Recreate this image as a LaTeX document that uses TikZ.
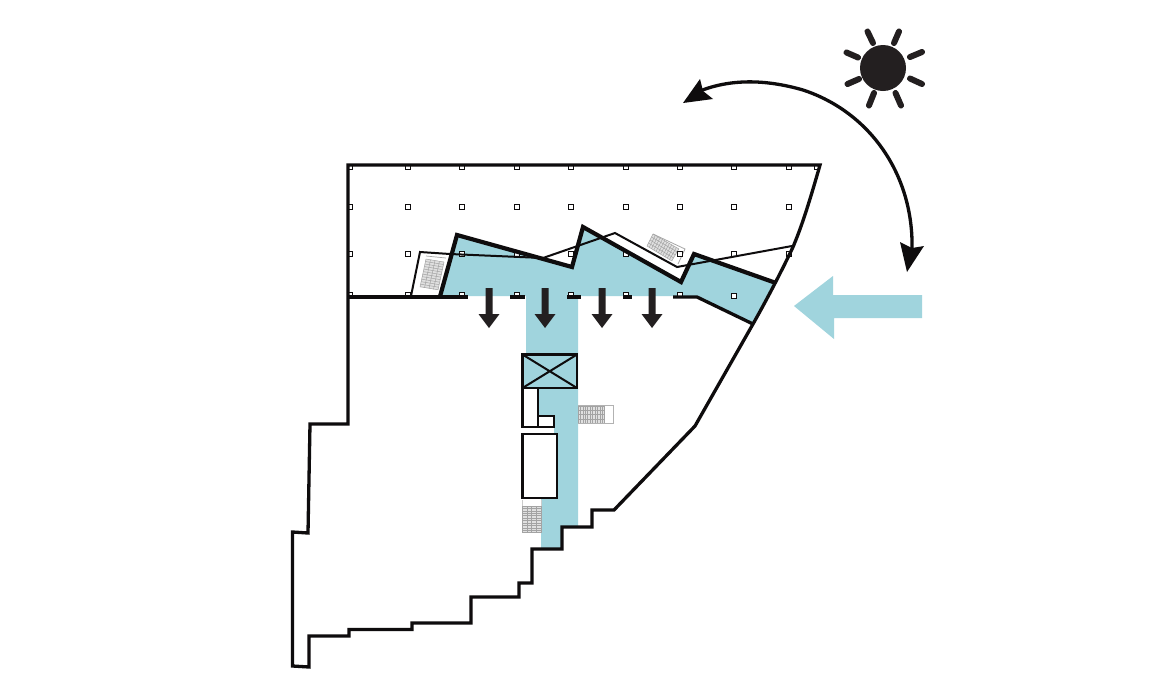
\documentclass[tikz,border=0pt]{standalone}
\usetikzlibrary{calc}
\definecolor{teal1}{HTML}{A0D4DD}
\definecolor{ink}{HTML}{0E0C0D}
\definecolor{soft}{HTML}{231F20}
\newcommand{\stairhatch}[6]{%
  \fill[black!12] (#1)--(#2)--(#3)--(#4)--cycle;
  \foreach \t in {0,#5,...,1.001}{\draw[black!36,line width=.5pt] ($(#1)!\t!(#2)$)--($(#4)!\t!(#3)$);}
  \foreach \t in {0,#6,...,1.001}{\draw[black!36,line width=.5pt] ($(#1)!\t!(#4)$)--($(#2)!\t!(#3)$);}
}
\tikzset{
  wall/.style={draw=ink,line width=3.3pt,line join=miter},
  heavy/.style={draw=ink,line width=4.2pt,line join=miter},
  thin wall/.style={draw=ink,line width=2pt,line join=miter},
  box/.style={draw=ink,line width=2.4pt,fill=white},
  column/.style={draw=ink,line width=1.4pt,fill=white},
  ray/.style={draw=soft,line width=6pt,line cap=round},
  downarrow/.style={fill=soft},
  path arc/.style={draw=ink,line width=3.3pt}
}
\begin{document}
\begin{tikzpicture}[x=1pt,y=-1pt]
\useasboundingbox (0,0) rectangle (1170,697);
\fill[white] (0,0) rectangle (1170,697);
% teal fills
\fill[teal1] (441,296)--(457,235)--(572,267)--(583,227)--(681,282)--(694,254)--(776,282)--(753,324)--(697,296)--cycle;
\fill[teal1] (526,296)--(578,296)--(578,527)--(562,527)--(562,548)--(541,548)--(541,498)--(557,498)--(557,434)--(554,434)--(554,416)--(538,416)--(538,388)--(522,388)--(522,354)--(526,354)--cycle;
% stairs
\stairhatch{426,259}{444,262}{438,290}{420,287}{0.25}{0.09}
\stairhatch{653,234}{679,249}{672,261}{647,246}{0.09}{0.25}
\stairhatch{578,406}{605,406}{605,423}{578,423}{0.09}{0.25}
\stairhatch{522,506}{541,506}{541,533}{522,533}{0.25}{0.09}
\draw[black!30,line width=1pt] (578,405)--(613,405)--(613,423)--(578,423);
\draw[black!20,line width=.8pt] (522,500)--(522,506) (541,500)--(541,506);
\draw[black!35,line width=.8pt] (653,234)--(685,249)--(678,264);
\draw[black!35,line width=.7pt] (426,256)--(446,258);
% columns
\foreach \y in {207,254}{\foreach \x in {350,408,462,517,571,626,680,734,789}{\draw[column] (\x-2.4,\y-2.4) rectangle (\x+2.4,\y+2.4);}}
\foreach \x in {350,408,462,517,571,626,680,734,789,817}{\draw[column] (\x-2.4,164.5) rectangle (\x+2.4,169.5);}
\foreach \x in {350,408,462,517,571,626,680}{\draw[column] (\x-2.4,292.5) rectangle (\x+2.4,297.5);}
\draw[column] (731.6,293.6) rectangle (736.4,298.4);
% boxes
\draw[box,fill=teal1] (522.5,354.5) rectangle (577,388);
\draw[ink,line width=2pt] (522.5,354.5)--(577,388) (577,354.5)--(522.5,388);
\draw[box] (522.5,388)--(538,388)--(538,416)--(554,416)--(554,427)--(522.5,427)--cycle;
\draw[ink,line width=2.4pt] (538,416)--(538,427);
\draw[box] (522.5,434) rectangle (557,498);
% thin wall line
\draw[thin wall] (411,296)--(420,252)--(450,254)--(543,258)--(615,233)--(677,267)--(792,246);
% outer wall
\draw[wall] (348,296.5)--(348,165)--(820,165) .. controls (808,207) and (801,228) .. (793,247) .. controls (786,262) and (770,294) .. (753,324)--(695,426)--(614,510)--(592,510)--(592,527)--(562,527)--(562,549)--(532,549)--(532,583)--(519,583)--(519,597)--(471,597)--(471,623)--(412,623)--(412,629.5)--(349,629.5)--(349,636)--(309,636)--(309,667)--(292.5,666)--(292.5,532)--(308,533)--(310,424)--(348,424)--cycle;
% floor edge and dashes
\draw[wall] (348,297)--(468,297);
\draw[wall] (510,297)--(525,297) (567,297)--(581,297) (623,297)--(632,297);
\draw[wall] (673,297)--(697,297)--(753,324);
% heavy wall
\draw[heavy] (440,296.5)--(457,235)--(572,267)--(583,227)--(681,282)--(694,254)--(776,283);
% light arrows
\fill[downarrow] (485.5,288)--(492.5,288)--(492.5,314)--(499.5,314)--(489,328)--(478.5,314)--(485.5,314)--cycle;
\fill[downarrow] (541.5,288)--(548.5,288)--(548.5,314)--(555.5,314)--(545,328)--(534.5,314)--(541.5,314)--cycle;
\fill[downarrow] (598.5,288)--(605.5,288)--(605.5,314)--(612.5,314)--(602,328)--(591.5,314)--(598.5,314)--cycle;
\fill[downarrow] (648.5,288)--(655.5,288)--(655.5,314)--(662.5,314)--(652,328)--(641.5,314)--(648.5,314)--cycle;
% wind arrow
\fill[teal1] (794,306)--(833,276)--(833,295)--(922,295)--(922,318)--(834,318)--(834,339)--cycle;
% sun
\fill[soft] (883,68) circle (23);
\draw[ray] (867.5,31.5)--(873,43);
\draw[ray] (899,31.5)--(894,43);
\draw[ray] (846.5,52.5)--(858,57.5);
\draw[ray] (922,52)--(910,57);
\draw[ray] (847.5,84)--(859,79);
\draw[ray] (922,84)--(910,78.5);
\draw[ray] (869,105.5)--(874,93);
\draw[ray] (901,105.5)--(895.5,93);
% sun path
\draw[path arc] (700,91) .. controls (730,79) and (765,79) .. (803,90) .. controls (870,112) and (914,175) .. (912,250);
\fill[ink] (683,103)--(700,79)--(703,91)--(713,99)--cycle;
\fill[ink] (907,272)--(900,242)--(912,248)--(924,246)--cycle;
\end{tikzpicture}
\end{document}
